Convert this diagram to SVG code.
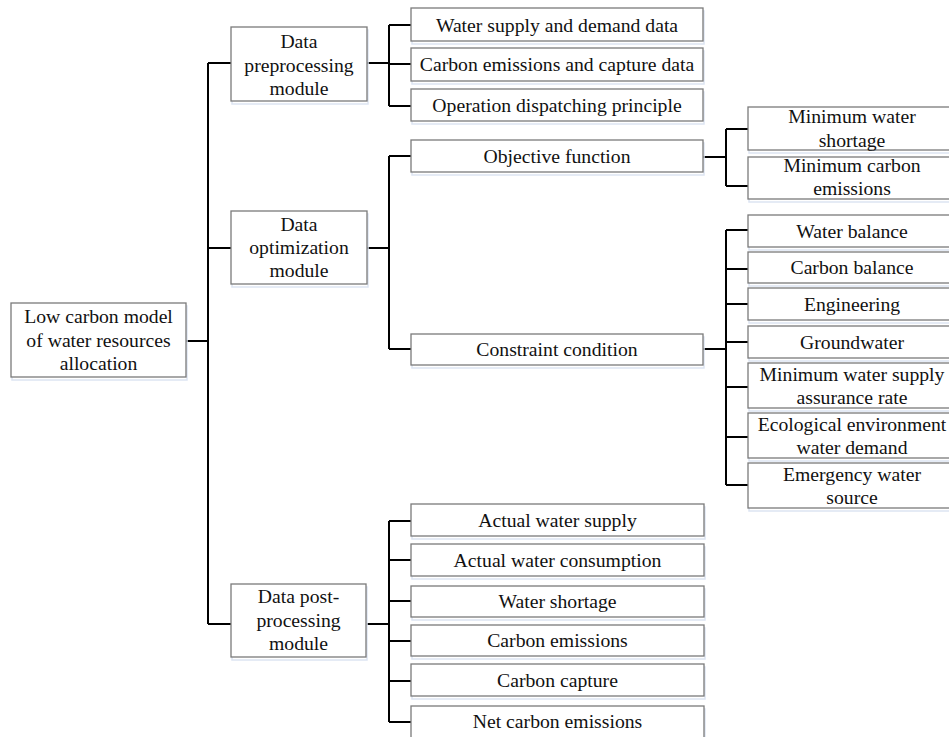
<svg xmlns="http://www.w3.org/2000/svg" width="949" height="737" viewBox="0 0 949 737">
<style>
.box{fill:#ffffff;stroke:#7a7a7a;stroke-width:1.3}
.sh{fill:none;stroke:#dde5f2;stroke-width:1.5}
.t{font-family:"Liberation Serif","Times New Roman",serif;font-size:19.7px;fill:#111111;text-anchor:middle}
.c{fill:none;stroke:#000000;stroke-width:2}
</style>
<rect width="949" height="737" fill="#ffffff"/>
<g id="connectors">
<path class="c" d="M186,341H208M208,63V624M208,63H231M208,248H231M208,624H231"/>
<path class="c" d="M367,63H389M389,25V106M389,25H411M389,64H411M389,106H411"/>
<path class="c" d="M367,248H389M389,156V349M389,156H411M389,349H411"/>
<path class="c" d="M703,157H726M726,129V186M726,129H748M726,186H748"/>
<path class="c" d="M703,349H726M726,230V485M726,230H748M726,269H748M726,304H748M726,342H748M726,387H748M726,437H748M726,485H748"/>
<path class="c" d="M367,624H389M389,521V722M389,521H411M389,560H411M389,601H411M389,641H411M389,681H411M389,722H411"/>
</g>
<g id="root">
<rect class="sh" x="12" y="306" width="175" height="74"/>
<rect class="box" x="11" y="303" width="175" height="74"/>
<text class="t" x="98.5" y="323">Low carbon model</text>
<text class="t" x="98.5" y="347">of water resources</text>
<text class="t" x="98.5" y="370">allocation</text>
</g>
<g id="preprocessing">
<rect class="sh" x="232" y="30" width="136" height="74"/>
<rect class="box" x="231" y="27" width="136" height="74"/>
<text class="t" x="299" y="48">Data</text>
<text class="t" x="299" y="72">preprocessing</text>
<text class="t" x="299" y="95">module</text>
</g>
<g id="optimization">
<rect class="sh" x="232" y="214" width="136" height="73"/>
<rect class="box" x="231" y="211" width="136" height="73"/>
<text class="t" x="299" y="231">Data</text>
<text class="t" x="299" y="254">optimization</text>
<text class="t" x="299" y="277">module</text>
</g>
<g id="postprocessing">
<rect class="sh" x="232" y="587" width="135" height="73"/>
<rect class="box" x="231" y="584" width="135" height="73"/>
<text class="t" x="298.5" y="603">Data post-</text>
<text class="t" x="298.5" y="627">processing</text>
<text class="t" x="298.5" y="650">module</text>
</g>
<g id="supply-demand">
<rect class="sh" x="412" y="11" width="292" height="33"/>
<rect class="box" x="411" y="8" width="292" height="33"/>
<text class="t" x="557" y="32">Water supply and demand data</text>
</g>
<g id="carbon-data">
<rect class="sh" x="412" y="51" width="292" height="33"/>
<rect class="box" x="411" y="48" width="292" height="33"/>
<text class="t" x="557" y="71">Carbon emissions and capture data</text>
</g>
<g id="dispatching">
<rect class="sh" x="412" y="92" width="292" height="32"/>
<rect class="box" x="411" y="89" width="292" height="32"/>
<text class="t" x="557" y="112">Operation dispatching principle</text>
</g>
<g id="objective">
<rect class="sh" x="412" y="143" width="292" height="32"/>
<rect class="box" x="411" y="140" width="292" height="32"/>
<text class="t" x="557" y="163">Objective function</text>
</g>
<g id="constraint">
<rect class="sh" x="412" y="337" width="292" height="31"/>
<rect class="box" x="411" y="334" width="292" height="31"/>
<text class="t" x="557" y="356">Constraint condition</text>
</g>
<g id="min-shortage">
<rect class="sh" x="749" y="110" width="210" height="43"/>
<rect class="box" x="748" y="107" width="210" height="43"/>
<text class="t" x="852" y="123">Minimum water</text>
<text class="t" x="852" y="147">shortage</text>
</g>
<g id="min-carbon">
<rect class="sh" x="749" y="160" width="210" height="42"/>
<rect class="box" x="748" y="157" width="210" height="42"/>
<text class="t" x="852" y="172">Minimum carbon</text>
<text class="t" x="852" y="195">emissions</text>
</g>
<g id="water-balance">
<rect class="sh" x="749" y="218" width="210" height="32"/>
<rect class="box" x="748" y="215" width="210" height="32"/>
<text class="t" x="852" y="238">Water balance</text>
</g>
<g id="carbon-balance">
<rect class="sh" x="749" y="255" width="210" height="31"/>
<rect class="box" x="748" y="252" width="210" height="31"/>
<text class="t" x="852" y="274">Carbon balance</text>
</g>
<g id="engineering">
<rect class="sh" x="749" y="291" width="210" height="32"/>
<rect class="box" x="748" y="288" width="210" height="32"/>
<text class="t" x="852" y="311">Engineering</text>
</g>
<g id="groundwater">
<rect class="sh" x="749" y="329" width="210" height="32"/>
<rect class="box" x="748" y="326" width="210" height="32"/>
<text class="t" x="852" y="349">Groundwater</text>
</g>
<g id="assurance">
<rect class="sh" x="749" y="366" width="210" height="45"/>
<rect class="box" x="748" y="363" width="210" height="45"/>
<text class="t" x="852" y="381">Minimum water supply</text>
<text class="t" x="852" y="404">assurance rate</text>
</g>
<g id="ecological">
<rect class="sh" x="749" y="416" width="210" height="45"/>
<rect class="box" x="748" y="413" width="210" height="45"/>
<text class="t" x="852" y="431">Ecological environment</text>
<text class="t" x="852" y="454">water demand</text>
</g>
<g id="emergency">
<rect class="sh" x="749" y="466" width="210" height="45"/>
<rect class="box" x="748" y="463" width="210" height="45"/>
<text class="t" x="852" y="481">Emergency water</text>
<text class="t" x="852" y="504">source</text>
</g>
<g id="actual-supply">
<rect class="sh" x="412" y="507" width="293" height="32"/>
<rect class="box" x="411" y="504" width="293" height="32"/>
<text class="t" x="557.5" y="527">Actual water supply</text>
</g>
<g id="actual-consumption">
<rect class="sh" x="412" y="547" width="293" height="32"/>
<rect class="box" x="411" y="544" width="293" height="32"/>
<text class="t" x="557.5" y="567">Actual water consumption</text>
</g>
<g id="water-shortage">
<rect class="sh" x="412" y="589" width="293" height="31"/>
<rect class="box" x="411" y="586" width="293" height="31"/>
<text class="t" x="557.5" y="608">Water shortage</text>
</g>
<g id="carbon-emissions">
<rect class="sh" x="412" y="628" width="293" height="31"/>
<rect class="box" x="411" y="625" width="293" height="31"/>
<text class="t" x="557.5" y="647">Carbon emissions</text>
</g>
<g id="carbon-capture">
<rect class="sh" x="412" y="667" width="293" height="32"/>
<rect class="box" x="411" y="664" width="293" height="32"/>
<text class="t" x="557.5" y="687">Carbon capture</text>
</g>
<g id="net-carbon">
<rect class="sh" x="412" y="709" width="293" height="34"/>
<rect class="box" x="411" y="706" width="293" height="34"/>
<text class="t" x="557.5" y="728">Net carbon emissions</text>
</g>
</svg>
